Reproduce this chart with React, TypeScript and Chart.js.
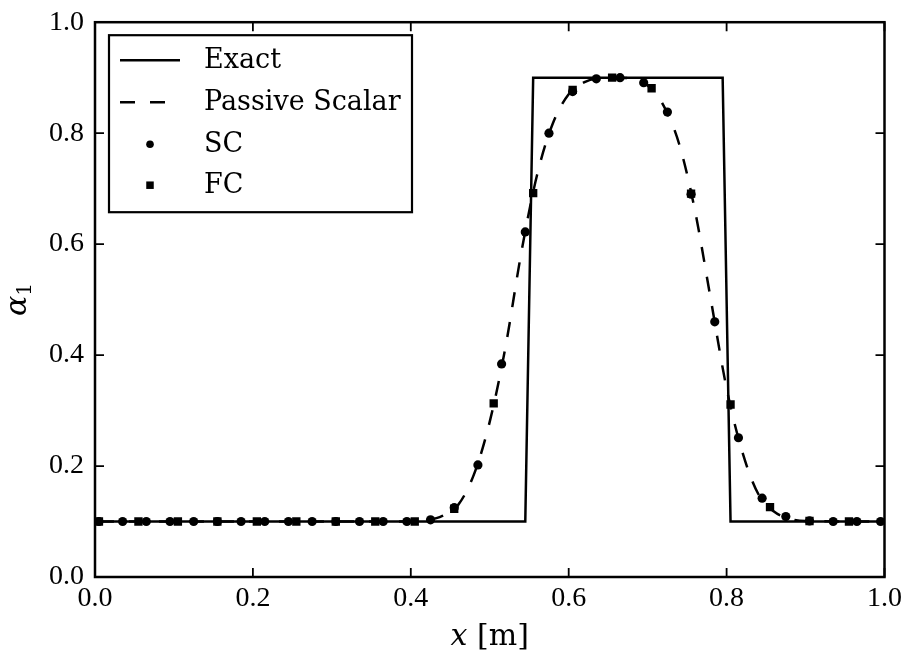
import React, { useEffect, useRef } from "react";
import { Chart, registerables } from "chart.js";

Chart.register(...registerables);

// ---- data ----
const tickValues = [0, 0.2, 0.4, 0.6, 0.8, 1.0];

const exactX = [0.005, 0.545, 0.555, 0.795, 0.805, 0.995];
const exactY = [0.1, 0.1, 0.9, 0.9, 0.1, 0.1];

const passiveX = [0.005, 0.4, 0.42, 0.44, 0.46, 0.48, 0.5, 0.52, 0.54, 0.56, 0.58, 0.6, 0.62, 0.64, 0.66, 0.68, 0.7, 0.72, 0.74, 0.76, 0.78, 0.8, 0.82, 0.84, 0.86, 0.88, 0.9, 0.995];
const passiveY = [0.1, 0.1, 0.102, 0.11, 0.13, 0.185, 0.28, 0.415, 0.585, 0.725, 0.818, 0.87, 0.892, 0.899, 0.9, 0.898, 0.886, 0.85, 0.78, 0.66, 0.5, 0.34, 0.225, 0.15, 0.118, 0.105, 0.101, 0.1];

const scX = [0.005, 0.035, 0.065, 0.095, 0.125, 0.155, 0.185, 0.215, 0.245, 0.275, 0.305, 0.335, 0.365, 0.395, 0.425, 0.455, 0.485, 0.515, 0.545, 0.575, 0.605, 0.635, 0.665, 0.695, 0.725, 0.755, 0.785, 0.815, 0.845, 0.875, 0.905, 0.935, 0.965, 0.995];
const scY = [0.1, 0.1, 0.1, 0.1, 0.1, 0.1, 0.1, 0.1, 0.1, 0.1, 0.1, 0.1, 0.1, 0.1, 0.103, 0.125, 0.202, 0.384, 0.622, 0.8, 0.875, 0.898, 0.9, 0.891, 0.838, 0.69, 0.46, 0.251, 0.142, 0.109, 0.101, 0.1, 0.1, 0.1];

const fcX = [0.005, 0.055, 0.105, 0.155, 0.205, 0.255, 0.305, 0.355, 0.405, 0.455, 0.505, 0.555, 0.605, 0.655, 0.705, 0.755, 0.805, 0.855, 0.905, 0.955];
const fcY = [0.1, 0.1, 0.1, 0.1, 0.1, 0.1, 0.1, 0.1, 0.1, 0.123, 0.313, 0.692, 0.878, 0.9, 0.881, 0.691, 0.311, 0.126, 0.101, 0.1];

const seriesLabels = ["Exact", "Passive Scalar", "SC", "FC"];
const xTitleVar = "x";
const xTitleUnit = " [m]";
const yTitleVar = "α";
const yTitleSub = "1";

const zip = (xs: number[], ys: number[]) => xs.map((x, i) => ({ x, y: ys[i] }));

const TICK_FONT = '"Liberation Serif", serif';
const TEXT_FONT = '"DejaVu Serif", serif';
const DASH = [15, 15];
const LINE_W = 2.5;

const decorPlugin = {
  id: "decor",
  afterDatasetsDraw(chart: any) {
    const { ctx, chartArea: a, scales } = chart;
    ctx.save();
    ctx.strokeStyle = "#000";
    ctx.lineWidth = 1.8;
    const tl = 9;
    for (const v of tickValues) {
      const px = scales.x.getPixelForValue(v);
      const py = scales.y.getPixelForValue(v);
      ctx.beginPath();
      ctx.moveTo(px, a.bottom); ctx.lineTo(px, a.bottom - tl);
      ctx.moveTo(px, a.top); ctx.lineTo(px, a.top + tl);
      ctx.moveTo(a.left, py); ctx.lineTo(a.left + tl, py);
      ctx.moveTo(a.right, py); ctx.lineTo(a.right - tl, py);
      ctx.stroke();
    }
    ctx.lineWidth = 2.5;
    ctx.strokeRect(a.left, a.top, a.right - a.left, a.bottom - a.top);

    // legend
    const bx = a.left + 14, by = a.top + 13, bw = 303, bh = 177;
    ctx.fillStyle = "#fff";
    ctx.fillRect(bx, by, bw, bh);
    ctx.lineWidth = 2.2;
    ctx.strokeStyle = "#000";
    ctx.strokeRect(bx, by, bw, bh);
    const rowY = [by + 25, by + 67, by + 109, by + 150];
    const sx0 = bx + 11, sx1 = bx + 71, tx = bx + 95;
    chart.data.datasets.forEach((ds: any, i: number) => {
      const y = rowY[i];
      ctx.save();
      if (ds.showLine) {
        ctx.strokeStyle = ds.borderColor;
        ctx.lineWidth = ds.borderWidth;
        ctx.setLineDash(ds.borderDash || []);
        ctx.beginPath();
        ctx.moveTo(sx0, y);
        ctx.lineTo(sx1, y);
        ctx.stroke();
      } else {
        ctx.fillStyle = ds.backgroundColor;
        const cx = (sx0 + sx1) / 2;
        if (ds.pointStyle === "rect") {
          const s = 7.5;
          ctx.fillRect(cx - s / 2, y - s / 2, s, s);
        } else {
          ctx.beginPath();
          ctx.arc(cx, y, 3.8, 0, Math.PI * 2);
          ctx.fill();
        }
      }
      ctx.restore();
      ctx.fillStyle = "#000";
      ctx.font = `27px ${TEXT_FONT}`;
      ctx.textBaseline = "middle";
      ctx.textAlign = "left";
      ctx.fillText(ds.label, tx, y + 1);
    });
    ctx.restore();
  },
  afterDraw(chart: any) {
    const { ctx, chartArea: a } = chart;
    ctx.save();
    ctx.fillStyle = "#000";
    ctx.textBaseline = "alphabetic";
    const italic = `italic 30px ${TEXT_FONT}`;
    const normal = `30px ${TEXT_FONT}`;
    ctx.font = italic;
    const w1 = ctx.measureText(xTitleVar).width;
    ctx.font = normal;
    const w2 = ctx.measureText(xTitleUnit).width;
    const cx = (a.left + a.right) / 2;
    const base = 645;
    const x0 = cx - (w1 + w2) / 2;
    ctx.font = italic;
    ctx.fillText(xTitleVar, x0, base);
    ctx.font = normal;
    ctx.fillText(xTitleUnit, x0 + w1, base);

    ctx.translate(26, (a.top + a.bottom) / 2);
    ctx.rotate(-Math.PI / 2);
    ctx.font = italic;
    const wa = ctx.measureText(yTitleVar).width;
    ctx.font = `20px ${TEXT_FONT}`;
    const ws = ctx.measureText(yTitleSub).width;
    const sx = -(wa + ws) / 2;
    ctx.font = italic;
    ctx.fillText(yTitleVar, sx, 0);
    ctx.font = `20px ${TEXT_FONT}`;
    ctx.fillText(yTitleSub, sx + wa, 5);
    ctx.restore();
  },
};

export default function App() {
  const ref = useRef<HTMLCanvasElement>(null);
  useEffect(() => {
    if (!ref.current) return;
    const chart = new Chart(ref.current, {
      type: "scatter",
      data: {
        datasets: [
          {
            label: seriesLabels[0],
            data: zip(exactX, exactY),
            showLine: true,
            borderColor: "#000",
            backgroundColor: "#000",
            borderWidth: LINE_W,
            pointRadius: 0,
            order: 3,
          },
          {
            label: seriesLabels[1],
            data: zip(passiveX, passiveY),
            showLine: true,
            borderColor: "#000",
            backgroundColor: "#000",
            borderWidth: LINE_W,
            borderDash: DASH,
            cubicInterpolationMode: "monotone",
            pointRadius: 0,
            order: 2,
          },
          {
            label: seriesLabels[2],
            data: zip(scX, scY),
            showLine: false,
            pointStyle: "circle",
            pointRadius: 4.6,
            borderWidth: 0,
            backgroundColor: "#000",
            borderColor: "#000",
            order: 1,
          },
          {
            label: seriesLabels[3],
            data: zip(fcX, fcY),
            showLine: false,
            pointStyle: "rect",
            pointRadius: 5.9,
            borderWidth: 0,
            backgroundColor: "#000",
            borderColor: "#000",
            order: 0,
          },
        ] as any,
      },
      options: {
        animation: false,
        responsive: false,
        events: [],
        layout: { padding: { left: 0, right: 22, top: 12, bottom: 0 } },
        plugins: {
          legend: { display: false },
          tooltip: { enabled: false },
        },
        scales: {
          x: {
            type: "linear",
            min: 0,
            max: 1,
            afterFit: (s: any) => { s.height = 84; },
            grid: { display: false, drawTicks: false },
            border: { display: false },
            ticks: {
              stepSize: 0.2,
              autoSkip: false,
              maxRotation: 0,
              padding: 5,
              color: "#000",
              font: { family: TICK_FONT, size: 28, lineHeight: 1.2 },
              callback: (v: any) => Number(v).toFixed(1),
            },
          },
          y: {
            type: "linear",
            min: 0,
            max: 1,
            afterFit: (s: any) => { s.width = 95; },
            grid: { display: false, drawTicks: false },
            border: { display: false },
            ticks: {
              stepSize: 0.2,
              padding: 11,
              color: "#000",
              font: { family: TICK_FONT, size: 28, lineHeight: 0.8 },
              callback: (v: any) => Number(v).toFixed(1),
            },
          },
        },
      },
      plugins: [decorPlugin],
    });
    return () => chart.destroy();
  }, []);
  return (
    <div style={{ position: "absolute", left: 0, top: 0, width: 907, height: 661, background: "#fff" }}>
      <canvas ref={ref} width={907} height={661} style={{ display: "block" }} />
    </div>
  );
}
